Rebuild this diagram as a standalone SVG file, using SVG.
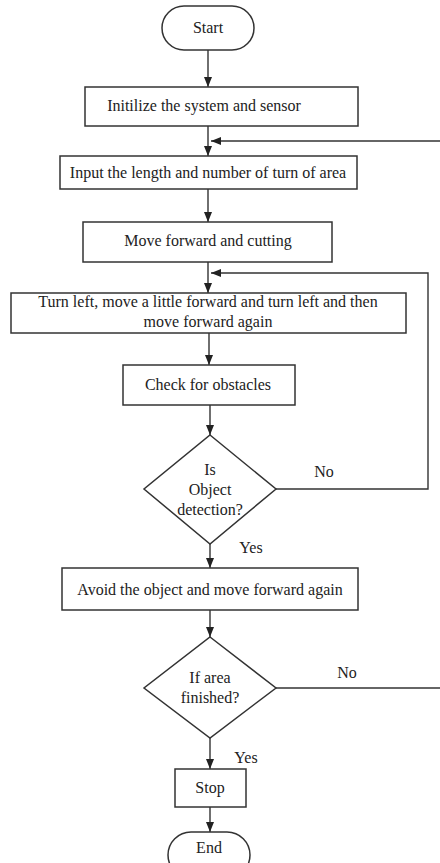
<svg xmlns="http://www.w3.org/2000/svg" width="440" height="863" viewBox="0 0 440 863">
<defs>
<marker id="ah" markerUnits="userSpaceOnUse" markerWidth="10" markerHeight="10" viewBox="0 0 10 10" refX="10" refY="5" orient="auto">
<path d="M0,1 L10,5 L0,9 Z" fill="#222"/>
</marker>
</defs>
<style>
.s{fill:#fff;stroke:#333;stroke-width:1.5}
.t{font-family:"Liberation Serif","Times New Roman",serif;font-size:16px;fill:#222;text-anchor:middle}
.c{fill:none;stroke:#333;stroke-width:1.4}
</style>
<rect width="440" height="863" fill="#fff"/>
<g id="connectors">
<path class="c" d="M208,50 V87" marker-end="url(#ah)"/>
<path class="c" d="M208,126 V156" marker-end="url(#ah)"/>
<path class="c" d="M441,141 H211" marker-end="url(#ah)"/>
<path class="c" d="M208,189 V222" marker-end="url(#ah)"/>
<path class="c" d="M208,262 V293" marker-end="url(#ah)"/>
<path class="c" d="M276,489 H428 V273 H211" marker-end="url(#ah)"/>
<path class="c" d="M209,333 V365" marker-end="url(#ah)"/>
<path class="c" d="M210,405 V435" marker-end="url(#ah)"/>
<path class="c" d="M210,544 V568" marker-end="url(#ah)"/>
<path class="c" d="M210,610 V637" marker-end="url(#ah)"/>
<path class="c" d="M276,688 H441"/>
<path class="c" d="M210,738 V769" marker-end="url(#ah)"/>
<path class="c" d="M210,807 V832" marker-end="url(#ah)"/>
<text class="t" x="324" y="477">No</text>
<text class="t" x="251" y="553">Yes</text>
<text class="t" x="347" y="678">No</text>
<text class="t" x="246" y="763">Yes</text>
</g>
<g id="start"><rect class="s" x="162" y="6" width="92" height="44" rx="22"/><text class="t" x="208" y="33">Start</text></g>
<g id="init"><rect class="s" x="85" y="87" width="273" height="39"/><text class="t" x="204" y="111">Initilize the system and sensor</text></g>
<g id="input"><rect class="s" x="60" y="156" width="297" height="33"/><text class="t" x="208" y="178">Input the length and number of turn of area</text></g>
<g id="move"><rect class="s" x="83" y="222" width="249" height="40"/><text class="t" x="208" y="246">Move forward and cutting</text></g>
<g id="turn"><rect class="s" x="11" y="293" width="395" height="40"/><text class="t" x="208" y="307">Turn left, move a little forward and turn left and then</text><text class="t" x="208" y="327">move forward again</text></g>
<g id="check"><rect class="s" x="123" y="365" width="172" height="40"/><text class="t" x="208" y="390">Check for obstacles</text></g>
<g id="decision1"><path class="s" d="M210,435 L276,489 L210,544 L144,489 Z"/><text class="t" x="210" y="475">Is</text><text class="t" x="210" y="495">Object</text><text class="t" x="210" y="515">detection?</text></g>
<g id="avoid"><rect class="s" x="62" y="568" width="296" height="42"/><text class="t" x="210" y="595">Avoid the object and move forward again</text></g>
<g id="decision2"><path class="s" d="M210,637 L276,688 L210,738 L144,688 Z"/><text class="t" x="210" y="683">If area</text><text class="t" x="210" y="703">finished?</text></g>
<g id="stop"><rect class="s" x="175" y="769" width="71" height="38"/><text class="t" x="210" y="793">Stop</text></g>
<g id="end"><rect class="s" x="168" y="832" width="82" height="46" rx="23"/><text class="t" x="209" y="853">End</text></g>
</svg>
